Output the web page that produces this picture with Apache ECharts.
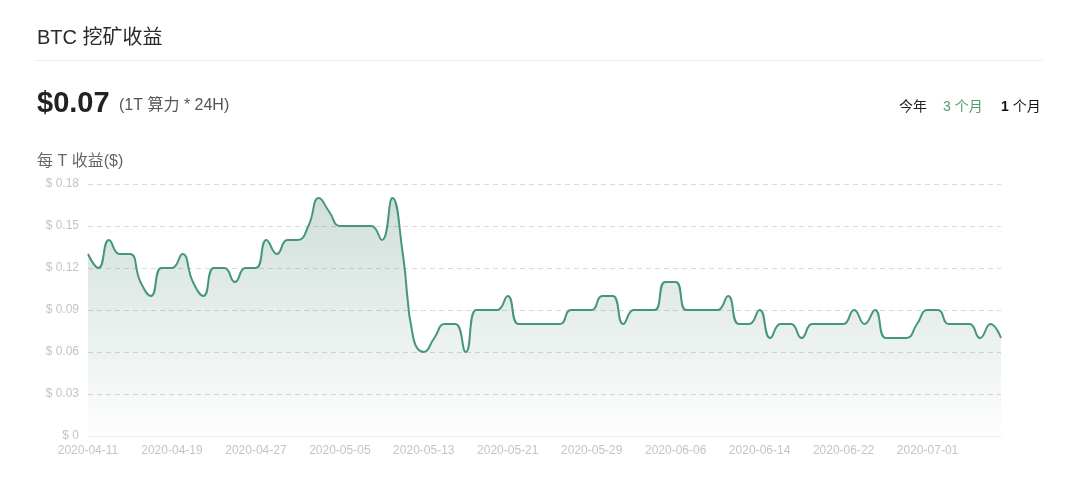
<!DOCTYPE html>
<html>
<head>
<meta charset="utf-8">
<style>
  html, body { margin: 0; padding: 0; background: #fff; }
  #chart { width: 1080px; height: 485px; }
</style>
<script src="https://cdn.jsdelivr.net/npm/echarts@6/dist/echarts.min.js"></script>
</head>
<body>
<div id="chart"></div>
<script>
const dates = [
  '2020-04-11','2020-04-12','2020-04-13','2020-04-14','2020-04-15','2020-04-16','2020-04-17','2020-04-18',
  '2020-04-19','2020-04-20','2020-04-21','2020-04-22','2020-04-23','2020-04-24','2020-04-25','2020-04-26',
  '2020-04-27','2020-04-28','2020-04-29','2020-04-30','2020-05-01','2020-05-02','2020-05-03','2020-05-04',
  '2020-05-05','2020-05-06','2020-05-07','2020-05-08','2020-05-09','2020-05-10','2020-05-11','2020-05-12',
  '2020-05-13','2020-05-14','2020-05-15','2020-05-16','2020-05-17','2020-05-18','2020-05-19','2020-05-20',
  '2020-05-21','2020-05-22','2020-05-23','2020-05-24','2020-05-25','2020-05-26','2020-05-27','2020-05-28',
  '2020-05-29','2020-05-30','2020-05-31','2020-06-01','2020-06-02','2020-06-03','2020-06-04','2020-06-05',
  '2020-06-06','2020-06-07','2020-06-08','2020-06-09','2020-06-10','2020-06-11','2020-06-12','2020-06-13',
  '2020-06-14','2020-06-15','2020-06-16','2020-06-17','2020-06-18','2020-06-19','2020-06-20','2020-06-21',
  '2020-06-22','2020-06-23','2020-06-24','2020-06-25','2020-06-26','2020-06-27','2020-06-29','2020-06-30',
  '2020-07-01','2020-07-02','2020-07-03','2020-07-04','2020-07-05','2020-07-06','2020-07-07','2020-07-08'
];
const revenuePerT = [
  0.13, 0.12, 0.14, 0.13, 0.13, 0.11, 0.10, 0.12, 0.12, 0.13,
  0.11, 0.10, 0.12, 0.12, 0.11, 0.12, 0.12, 0.14, 0.13, 0.14,
  0.14, 0.15, 0.17, 0.16, 0.15, 0.15, 0.15, 0.15, 0.14, 0.17,
  0.13, 0.07, 0.06, 0.07, 0.08, 0.08, 0.06, 0.09, 0.09, 0.09,
  0.10, 0.08, 0.08, 0.08, 0.08, 0.08, 0.09, 0.09, 0.09, 0.10,
  0.10, 0.08, 0.09, 0.09, 0.09, 0.11, 0.11, 0.09, 0.09, 0.09,
  0.09, 0.10, 0.08, 0.08, 0.09, 0.07, 0.08, 0.08, 0.07, 0.08,
  0.08, 0.08, 0.08, 0.09, 0.08, 0.09, 0.07, 0.07, 0.07, 0.08,
  0.09, 0.09, 0.08, 0.08, 0.08, 0.07, 0.08, 0.07
];
const yTicks = { min: 0, max: 0.18, interval: 0.03 };
const titleText = 'BTC 挖矿收益';
const currentValue = '$0.07';
const currentNote = '(1T 算力 * 24H)';
const axisTitle = '每 T 收益($)';
const rangeOptions = ['今年', '3 个月', '1 个月'];

const FONT = '"Liberation Sans", "Noto Sans CJK SC", sans-serif';
const chart = echarts.init(document.getElementById('chart'), null, { renderer: 'canvas' });

function txt(x, y, text, font, fill) {
  return { type: 'text', x: x, y: y, style: { text: text, font: font, fill: fill, verticalAlign: 'middle', align: 'left' } };
}

chart.setOption({
  animation: false,
  textStyle: { fontFamily: FONT },
  grid: { left: 88, right: 79, top: 184, bottom: 49, containLabel: false },
  graphic: [
    txt(37, 38, titleText, '20px ' + FONT, '#2b2b2b'),
    { type: 'line', shape: { x1: 36, y1: 60.5, x2: 1042, y2: 60.5 }, style: { stroke: '#ececec', lineWidth: 1 } },
    txt(37, 104, currentValue, 'bold 29px ' + FONT, '#222'),
    txt(119, 106, currentNote, '16px ' + FONT, '#555'),
    txt(37, 162, axisTitle, '16px ' + FONT, '#666'),
    txt(899, 107, rangeOptions[0], '14px ' + FONT, '#222'),
    txt(943, 107, rangeOptions[1], '14px ' + FONT, '#4e9f6e'),
    {
      type: 'text', x: 1001, y: 107,
      style: {
        text: '{b|1}{n|' + rangeOptions[2].slice(1) + '}',
        verticalAlign: 'middle', align: 'left',
        rich: {
          b: { font: 'bold 14px ' + FONT, fill: '#111' },
          n: { font: '14px ' + FONT, fill: '#111' }
        }
      }
    }
  ],
  xAxis: {
    type: 'category',
    data: dates,
    boundaryGap: false,
    axisLine: { lineStyle: { color: '#eeeeee' } },
    axisTick: { show: false },
    axisLabel: { interval: 7, color: '#c4c4c4', fontSize: 12, margin: 9, fontFamily: FONT },
    splitLine: { show: false }
  },
  yAxis: {
    type: 'value',
    min: yTicks.min,
    max: yTicks.max,
    interval: yTicks.interval,
    axisLine: { show: false },
    axisTick: { show: false },
    axisLabel: {
      color: '#c4c4c4', fontSize: 12, margin: 9, fontFamily: FONT,
      formatter: v => v === 0 ? '$ 0' : '$ ' + v.toFixed(2)
    },
    splitLine: { lineStyle: { color: '#d9d9d9', type: [5, 4] } }
  },
  series: [{
    type: 'line',
    data: revenuePerT,
    smooth: 0.5,
    symbol: 'none',
    lineStyle: { color: '#44977a', width: 2 },
    areaStyle: {
      color: new echarts.graphic.LinearGradient(0, 0, 0, 1, [
        { offset: 0, color: 'rgba(60,120,98,0.34)' },
        { offset: 1, color: 'rgba(60,120,98,0.01)' }
      ])
    }
  }]
});
</script>
</body>
</html>
